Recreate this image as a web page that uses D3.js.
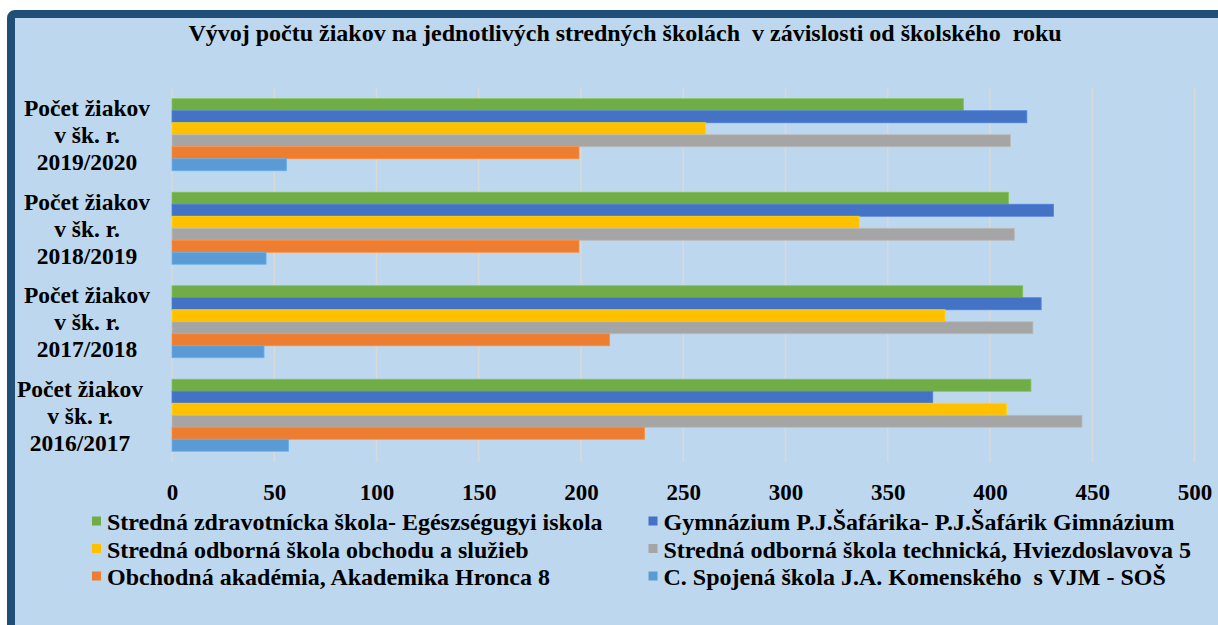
<!DOCTYPE html>
<html>
<head>
<meta charset="utf-8">
<script src="https://cdn.jsdelivr.net/npm/d3@7"></script>
<style>
  html, body { margin: 0; padding: 0; background: #ffffff; }
  svg { display: block; }
  text { font-family: "Liberation Serif", "Times New Roman", serif; font-weight: bold; fill: #000; }
</style>
</head>
<body>
<svg id="chart" width="1218" height="625"></svg>
<script>
// School years, listed top to bottom
const years = ["2019/2020", "2018/2019", "2017/2018", "2016/2017"];

// Schools (series), in legend order
const schools = [
  "Stredná zdravotnícka škola- Egészségugyi iskola",
  "Gymnázium P.J.Šafárika- P.J.Šafárik Gimnázium",
  "Stredná odborná škola obchodu a služieb",
  "Stredná odborná škola technická, Hviezdoslavova 5",
  "Obchodná akadémia, Akademika Hronca 8",
  "C. Spojená škola J.A. Komenského  s VJM - SOŠ"
];

const colors = ["#70AD47", "#4472C4", "#FFC000", "#A5A5A5", "#ED7D31", "#5B9BD5"];

// Pupil counts per school, one value per year (same order as `years`)
const zdravotnicka = [387, 409, 416, 420];
const gymnazium    = [418, 431, 425, 372];
const sosObchodu   = [261, 336, 378, 408];
const sosTechnicka = [410, 412, 421, 445];
const obchodnaAk   = [199, 199, 214, 231];
const spojenaSkola = [56, 46, 45, 57];

const seriesValues = [zdravotnicka, gymnazium, sosObchodu, sosTechnicka, obchodnaAk, spojenaSkola];

const xTicks = [0, 50, 100, 150, 200, 250, 300, 350, 400, 450, 500];

const title = "Vývoj počtu žiakov na jednotlivých stredných školách  v závislosti od školského  roku";

const svg = d3.select("#chart");

// Panel background with the dark frame along the top and left edges
svg.append("rect")
  .attr("x", 11).attr("y", 14)
  .attr("width", 1300).attr("height", 700)
  .attr("rx", 4)
  .attr("fill", "#BDD7EE")
  .attr("stroke", "#1F4E79")
  .attr("stroke-width", 8);

svg.append("text")
  .attr("x", 625).attr("y", 41)
  .attr("text-anchor", "middle")
  .style("font-size", "24px")
  .style("white-space", "pre")
  .attr("xml:space", "preserve")
  .text(title);

const plot = { left: 172, right: 1194.5, top: 88, bottom: 462 };

const x = d3.scaleLinear().domain([0, 500]).range([plot.left, plot.right]);
const y = d3.scaleBand().domain(years).range([plot.top, plot.bottom])
  .paddingInner(0.23).paddingOuter(0.115);
const ySub = d3.scaleBand().domain(d3.range(schools.length)).range([0, y.bandwidth()]);

// Vertical gridlines
svg.append("g")
  .selectAll("line")
  .data(xTicks)
  .join("line")
  .attr("x1", d => x(d)).attr("x2", d => x(d))
  .attr("y1", plot.top).attr("y2", plot.bottom)
  .attr("stroke", "#D9D9D9")
  .attr("stroke-width", 1.5);

// Bars
const groups = svg.append("g")
  .selectAll("g")
  .data(years)
  .join("g")
  .attr("transform", d => `translate(0,${y(d)})`);

groups.selectAll("rect")
  .data((yr, i) => seriesValues.map((vals, s) => ({ s, v: vals[i] })))
  .join("rect")
  .attr("x", x(0))
  .attr("y", d => ySub(d.s))
  .attr("width", d => x(d.v) - x(0))
  .attr("height", ySub.bandwidth())
  .attr("fill", d => colors[d.s])
  .attr("stroke", d => d3.color(colors[d.s]).brighter(0.35))
  .attr("stroke-width", 0.8);

// X axis tick labels (no axis line)
const xAxis = svg.append("g")
  .attr("transform", `translate(0,${plot.bottom})`)
  .call(d3.axisBottom(x).tickValues(xTicks).tickSize(0).tickPadding(0));
xAxis.attr("font-family", null).attr("font-size", null);
xAxis.select(".domain").remove();
xAxis.selectAll("text")
  .attr("y", 38)
  .attr("dy", null)
  .style("font-size", "23px")
  .style("font-family", "'Liberation Serif', serif")
  .style("font-weight", "bold")
  .attr("fill", "#000");

// Category labels, three lines each
const catLines = yr => ["Počet žiakov", "v šk. r.", yr];
const catX = { "2019/2020": 87, "2018/2019": 87, "2017/2018": 87, "2016/2017": 80 };
svg.append("g")
  .selectAll("text")
  .data(years)
  .join("text")
  .attr("text-anchor", "middle")
  .style("font-size", "23.5px")
  .each(function (yr) {
    const cy = y(yr) + y.bandwidth() / 2 + 8.5;
    d3.select(this).selectAll("tspan")
      .data(catLines(yr))
      .join("tspan")
      .attr("x", catX[yr])
      .attr("y", (d, i) => cy + (i - 1) * 27)
      .text(d => d);
  });

// Legend: two columns, three rows
const legendCols = [92, 648.5];
const legendRows = [530, 557.5, 585];
const legend = svg.append("g")
  .selectAll("g")
  .data(schools)
  .join("g")
  .attr("transform", (d, i) => `translate(${legendCols[i % 2]},${legendRows[Math.floor(i / 2)]})`);

legend.append("rect")
  .attr("x", 0).attr("y", -13.5)
  .attr("width", 9).attr("height", 9)
  .attr("fill", (d, i) => colors[i]);

legend.append("text")
  .attr("x", 15).attr("y", 0)
  .style("font-size", "24px")
  .attr("xml:space", "preserve")
  .style("white-space", "pre")
  .text(d => d);
</script>
</body>
</html>
